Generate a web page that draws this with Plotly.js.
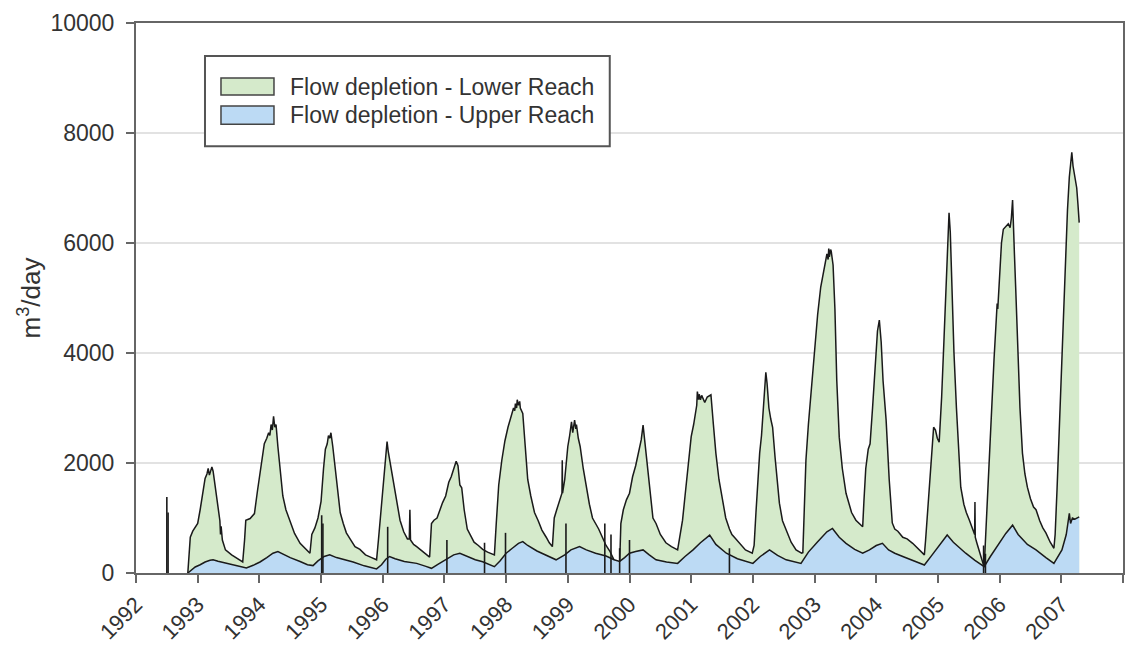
<!DOCTYPE html>
<html>
<head>
<meta charset="utf-8">
<script src="https://cdn.plot.ly/plotly-3.0.1.min.js"></script>
<style>html,body{margin:0;padding:0;background:#fff;}#chart{width:1129px;height:648px;}</style>
</head>
<body>
<div id="chart"></div>
<script>
// Stacked top (upper + lower reach), m3/day, x in decimal years
const totalYears = [
1992.84,1992.86,1992.88,1992.92,1992.96,1993.00,1993.04,1993.08,1993.12,1993.15,1993.17,1993.19,1993.21,1993.23,1993.25,1993.28,1993.31,1993.33,1993.36,1993.37,1993.38,1993.40,1993.45,1993.55,1993.65,1993.73,
1993.76,1993.78,1993.85,1993.92,1993.97,1994.03,1994.08,1994.12,1994.15,1994.17,1994.19,1994.21,1994.23,1994.25,1994.27,1994.30,1994.34,1994.38,1994.43,1994.49,1994.57,1994.66,1994.75,1994.82,
1994.85,1994.90,1994.95,1995.00,1995.04,1995.07,1995.10,1995.12,1995.14,1995.16,1995.19,1995.23,1995.27,1995.31,1995.36,1995.41,1995.47,1995.55,1995.63,1995.72,1995.82,1995.90,
1995.93,1995.96,1996.00,1996.03,1996.06,1996.07,1996.09,1996.12,1996.17,1996.22,1996.28,1996.34,1996.40,1996.43,1996.44,1996.45,1996.50,1996.55,1996.62,1996.70,1996.76,
1996.79,1996.83,1996.88,1996.93,1996.97,1997.02,1997.07,1997.11,1997.15,1997.19,1997.22,1997.25,1997.28,1997.32,1997.37,1997.42,1997.48,1997.55,1997.62,1997.70,1997.81,
1997.84,1997.88,1997.93,1997.98,1998.03,1998.08,1998.12,1998.14,1998.15,1998.17,1998.18,1998.20,1998.22,1998.23,1998.27,1998.31,1998.35,1998.40,1998.46,1998.52,1998.58,1998.65,1998.70,1998.75,
1998.78,1998.82,1998.86,1998.90,1998.905,1998.91,1998.915,1998.95,1999.00,1999.03,1999.05,1999.06,1999.08,1999.10,1999.11,1999.13,1999.14,1999.17,1999.20,1999.25,1999.30,1999.35,1999.40,1999.45,1999.50,1999.56,1999.62,1999.68,1999.72,1999.76,1999.80,1999.84,
1999.86,1999.90,1999.95,2000.00,2000.05,2000.10,2000.15,2000.19,2000.22,2000.25,2000.28,2000.32,2000.35,2000.38,2000.43,2000.50,2000.59,2000.68,2000.78,
2000.82,2000.86,2000.90,2000.95,2001.00,2001.04,2001.07,2001.09,2001.10,2001.12,2001.13,2001.15,2001.17,2001.18,2001.22,2001.26,2001.32,2001.36,2001.40,2001.45,2001.51,2001.56,2001.62,2001.66,2001.70,2001.78,2001.88,2001.99,
2002.02,2002.05,2002.08,2002.11,2002.14,2002.17,2002.20,2002.21,2002.23,2002.26,2002.29,2002.32,2002.36,2002.40,2002.43,2002.48,2002.54,2002.62,2002.70,2002.79,
2002.81,2002.83,2002.86,2002.90,2002.95,2003.00,2003.05,2003.10,2003.14,2003.17,2003.20,2003.22,2003.23,2003.24,2003.26,2003.27,2003.30,2003.33,2003.36,2003.40,2003.45,2003.51,2003.56,2003.60,2003.67,2003.72,2003.78,
2003.80,2003.83,2003.87,2003.90,2003.94,2003.98,2004.02,2004.05,2004.08,2004.11,2004.16,2004.21,2004.26,2004.30,2004.35,2004.43,2004.50,2004.59,2004.68,2004.78,
2004.80,2004.83,2004.86,2004.90,2004.93,2004.96,2004.99,2005.02,2005.06,2005.10,2005.14,2005.17,2005.18,2005.20,2005.23,2005.26,2005.30,2005.34,2005.37,2005.42,2005.46,2005.51,2005.56,2005.595,2005.60,2005.605,2005.63,2005.67,2005.71,2005.75,
2005.77,2005.80,2005.83,2005.87,2005.91,2005.95,2005.96,2005.97,2006.00,2006.03,2006.06,2006.10,2006.14,2006.17,2006.19,2006.21,2006.22,2006.24,2006.26,2006.30,2006.33,2006.37,2006.41,2006.45,2006.50,2006.55,2006.59,2006.65,2006.70,2006.75,2006.82,2006.88,
2006.90,2006.93,2006.96,2007.00,2007.04,2007.07,2007.10,2007.13,2007.16,2007.17,2007.19,2007.22,2007.25,2007.27,2007.29
];
const totalDepletion = [
0,400,650,760,830,900,1150,1450,1720,1800,1900,1780,1880,1930,1850,1600,1400,1200,950,700,850,600,420,330,260,200,
600,960,990,1080,1500,1950,2350,2450,2550,2500,2700,2600,2850,2650,2700,2300,1800,1400,1150,960,720,540,430,360,
700,820,1000,1300,1900,2250,2350,2500,2450,2550,2300,1900,1450,1100,900,730,620,480,430,330,280,240,
600,1000,1500,1900,2300,2390,2200,2000,1700,1300,960,750,620,620,1150,600,520,480,420,340,290,
900,960,1000,1180,1280,1400,1650,1750,1900,2030,1950,1600,1550,1150,800,700,560,500,430,380,330,
900,1600,2050,2400,2650,2850,3000,2950,3080,3000,3150,3050,3120,3000,2900,2300,1700,1400,1100,950,780,650,550,480,
1000,1150,1300,1450,1450,2050,1450,1700,2300,2500,2650,2750,2550,2700,2780,2620,2700,2450,2300,1900,1550,1250,1000,900,800,650,500,400,300,200,120,150,
900,1150,1330,1450,1750,1950,2200,2420,2690,2350,2050,1600,1270,1000,900,700,550,480,420,
700,960,1400,1900,2480,2700,2900,3050,3300,3150,3250,3150,3230,3200,3100,3200,3240,2700,2180,1700,1270,1000,800,700,650,540,420,360,
500,1100,1700,2180,2500,3000,3500,3650,3450,3000,2800,2650,2100,1600,1270,950,780,560,420,360,
370,1200,2050,2700,3400,4100,4700,5200,5450,5600,5800,5700,5900,5750,5880,5850,5600,4800,3500,2470,1900,1450,1250,1100,960,900,840,
1300,1900,2250,2350,3000,3800,4400,4600,4200,3500,2780,1700,910,800,760,650,620,540,440,330,
600,1100,1560,2200,2650,2600,2450,2380,3200,4300,5400,6300,6550,6200,5000,4000,3000,2100,1560,1250,1100,960,800,700,1290,650,550,420,250,110,
600,1400,2180,3000,3900,4700,4900,4800,5500,6000,6250,6300,6350,6280,6450,6780,6300,5800,5200,4000,3000,2180,1800,1560,1350,1200,1150,950,820,730,560,450,
700,1500,2470,3700,4800,5800,6600,7200,7600,7650,7400,7200,7000,6700,6370
];

// Upper reach (bottom of the stack), m3/day
const upperYears = [
1992.84,1992.90,1992.96,1993.04,1993.12,1993.20,1993.25,1993.33,1993.45,1993.58,1993.70,1993.79,1993.90,1994.01,1994.12,1994.22,1994.30,1994.38,1994.50,1994.66,1994.78,1994.87,1994.95,1995.05,1995.14,1995.25,1995.38,1995.52,1995.70,1995.90,1995.98,1996.05,1996.11,1996.20,1996.35,1996.55,1996.70,1996.79,1996.90,1997.05,1997.15,1997.25,1997.35,1997.50,1997.62,1997.81,1997.90,1998.00,1998.10,1998.20,1998.27,1998.35,1998.50,1998.70,1998.81,1998.95,1999.05,1999.19,1999.30,1999.45,1999.62,1999.75,1999.84,1999.92,2000.00,2000.10,2000.22,2000.32,2000.43,2000.60,2000.78,2000.90,2001.03,2001.15,2001.30,2001.40,2001.57,2001.75,2002.00,2002.12,2002.27,2002.40,2002.54,2002.78,2002.90,2003.05,2003.20,2003.29,2003.40,2003.51,2003.65,2003.78,2003.89,2004.00,2004.10,2004.20,2004.30,2004.43,2004.60,2004.78,2004.90,2005.05,2005.15,2005.25,2005.45,2005.60,2005.75,2005.85,2006.00,2006.10,2006.21,2006.30,2006.45,2006.59,2006.75,2006.88,2007.01,2007.08,2007.13,2007.15,2007.18,2007.22,2007.29
];
const upperReach = [
0,60,110,150,200,230,240,215,180,145,110,90,140,200,280,360,390,340,280,210,150,135,220,300,330,280,240,200,130,75,150,250,300,260,210,175,120,85,160,260,330,360,310,240,205,115,220,360,450,540,570,500,400,300,240,330,420,480,420,360,310,240,210,280,360,390,420,330,240,200,175,300,420,550,690,520,360,260,175,300,420,320,240,175,380,570,750,810,650,540,430,360,420,500,540,420,360,300,220,145,320,550,690,560,360,230,115,300,550,720,870,700,520,420,280,175,420,700,1085,900,1000,980,1020
];

// Isolated daily spikes drawn as vertical strokes
const spikeYears = [1992.50,1992.52,1995.01,1995.03,1996.08,1997.04,1997.65,1997.99,1998.97,1999.60,1999.70,1999.84,2000.00,2001.62,2005.74,2005.77];
const spikeTops  = [1380,1100,1050,900,840,600,550,730,900,900,700,450,600,450,500,350];

const yearTicks = [1992,1993,1994,1995,1996,1997,1998,1999,2000,2001,2002,2003,2004,2005,2006,2007,2008];
const valueTicks = [0,2000,4000,6000,8000,10000];
const legendLabels = ["Flow depletion - Lower Reach", "Flow depletion - Upper Reach"];

const GREEN = "#d5eacb", BLUE = "#bcdaf4", LINE = "#1a1a1a";

const spikeX = [], spikeY = [];
spikeYears.forEach((yr, i) => { spikeX.push(yr, yr, null); spikeY.push(0, spikeTops[i], null); });

const traces = [
  {x: totalYears, y: totalDepletion, type: "scatter", mode: "lines", fill: "tozeroy",
   fillcolor: GREEN, line: {color: LINE, width: 1.5}, name: legendLabels[0], hoverinfo: "skip"},
  {x: upperYears, y: upperReach, type: "scatter", mode: "lines", fill: "tozeroy",
   fillcolor: BLUE, line: {color: LINE, width: 1.5}, name: legendLabels[1], hoverinfo: "skip"},
  {x: spikeX, y: spikeY, type: "scatter", mode: "lines", line: {color: LINE, width: 1.6},
   hoverinfo: "skip", showlegend: false}
];

const FONT = "Liberation Sans, Arial, sans-serif";
const axisCommon = {showline: true, linecolor: "#666", linewidth: 2, mirror: true,
  ticks: "outside", ticklen: 8, tickwidth: 2, tickcolor: "#666", zeroline: false};

const layout = {
  width: 1129, height: 648,
  margin: {l: 136, r: 6, t: 23, b: 75},
  paper_bgcolor: "#fff", plot_bgcolor: "#fff",
  showlegend: false,
  xaxis: Object.assign({}, axisCommon, {range: [1992, 2008], tickvals: yearTicks,
    ticktext: yearTicks.map(String), tickangle: -45, showgrid: false,
    tickfont: {family: FONT, size: 22, color: "#333"}}),
  yaxis: Object.assign({}, axisCommon, {range: [0, 10000], tickvals: valueTicks,
    ticktext: valueTicks.map(String), ticklabelstandoff: 7,
    tickfont: {family: FONT, size: 23, color: "#333"},
    showgrid: true, gridcolor: "#e2e2e2", gridwidth: 1.5,
    title: {text: "m<sup>3</sup>/day", font: {family: FONT, size: 26, color: "#333"}, standoff: 2}}),
  shapes: [
    {type: "rect", xref: "paper", yref: "paper", x0: 0.0699, x1: 0.480, y0: 0.776, y1: 0.940,
     line: {color: "#555", width: 2}, fillcolor: "#fff"},
    {type: "rect", xref: "paper", yref: "paper", x0: 0.0861, x1: 0.1398, y0: 0.869, y1: 0.900,
     line: {color: "#444", width: 1.5}, fillcolor: GREEN},
    {type: "rect", xref: "paper", yref: "paper", x0: 0.0861, x1: 0.1398, y0: 0.816, y1: 0.849,
     line: {color: "#444", width: 1.5}, fillcolor: BLUE}
  ],
  annotations: [
    {xref: "paper", yref: "paper", x: 0.154, y: 0.8836, xanchor: "left", yanchor: "middle",
     text: legendLabels[0], showarrow: false, font: {family: FONT, size: 23, color: "#333"}},
    {xref: "paper", yref: "paper", x: 0.154, y: 0.8327, xanchor: "left", yanchor: "middle",
     text: legendLabels[1], showarrow: false, font: {family: FONT, size: 23, color: "#333"}}
  ]
};

Plotly.newPlot("chart", traces, layout, {staticPlot: true, displayModeBar: false});
</script>
</body>
</html>
